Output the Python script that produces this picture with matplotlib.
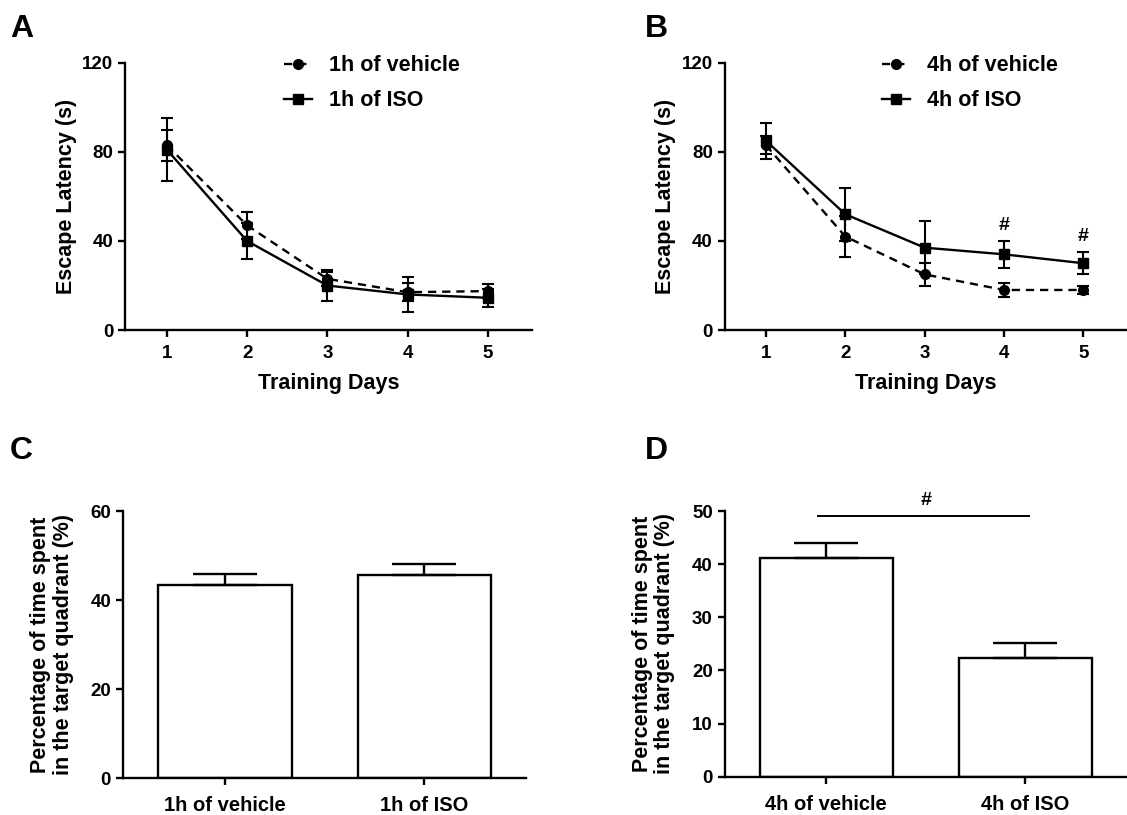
import matplotlib
matplotlib.use('Agg')
import matplotlib.pyplot as plt
from matplotlib.lines import Line2D

plt.rcParams['font.family'] = ['Liberation Sans', 'DejaVu Sans']
plt.rcParams['font.weight'] = 'bold'
plt.rcParams['axes.labelweight'] = 'bold'

# water maze data
days = [1, 2, 3, 4, 5]

veh_1h = [83, 47, 23, 17, 17.5]
veh_1h_err = [7, 6, 3, 4, 3]
iso_1h = [81, 40, 20, 16, 14.5]
iso_1h_err = [14, 8, 7, 8, 4]

veh_4h = [83, 42, 25, 18, 18]
veh_4h_err = [4, 9, 5, 3, 2]
iso_4h = [85, 52, 37, 34, 30]
iso_4h_err = [8, 12, 12, 6, 5]
sig_days = [4, 5]

groups_c = ['1h of vehicle', '1h of ISO']
pct_c = [43.3, 45.7]
pct_c_err = [2.5, 2.3]

groups_d = ['4h of vehicle', '4h of ISO']
pct_d = [41.2, 22.3]
pct_d_err = [2.8, 2.8]

DASH = (0, (3.5, 2.5))


def style_ax(ax):
    for s in ['top', 'right']:
        ax.spines[s].set_visible(False)
    for s in ['left', 'bottom']:
        ax.spines[s].set_linewidth(1.7)
    ax.tick_params(width=1.7, length=5, labelsize=13.5, direction='out')


def line_panel(ax, veh, veh_err, iso, iso_err, lab_veh, lab_iso):
    ax.errorbar(days, veh, yerr=veh_err, color='black', marker='o', ms=7,
                lw=1.7, ls=DASH, capsize=4, elinewidth=1.5, capthick=1.5)
    ax.errorbar(days, iso, yerr=iso_err, color='black', marker='s', ms=7,
                lw=1.7, ls='-', capsize=4, elinewidth=1.5, capthick=1.5)
    ax.set_ylim(0, 120)
    ax.set_yticks([0, 40, 80, 120])
    ax.set_xlim(0.48, 5.55)
    ax.set_xticks(days)
    ax.set_xlabel('Training Days', fontsize=15.5, labelpad=8)
    ax.set_ylabel('Escape Latency (s)', fontsize=15.5)
    style_ax(ax)
    ax.tick_params(axis='x', pad=6)
    handles = [Line2D([], [], color='black', marker='o', ms=7, lw=1.7, ls=DASH),
               Line2D([], [], color='black', marker='s', ms=7, lw=1.7, ls='-')]
    ax.legend(handles, [lab_veh, lab_iso], loc='upper left',
              bbox_to_anchor=(0.343, 1.1), frameon=False, fontsize=15.5,
              handlelength=1.3, handletextpad=0.8, labelspacing=0.65)


def bar_panel(ax, groups, vals, errs, ymax, yticks):
    x = [0, 1]
    ax.bar(x, vals, width=0.67, color='white', edgecolor='black', lw=1.7,
           yerr=[[0, 0], errs], capsize=23,
           error_kw=dict(elinewidth=1.7, capthick=1.7))
    ax.set_ylim(0, ymax)
    ax.set_yticks(yticks)
    ax.set_xticks(x)
    ax.set_xticklabels(groups)
    ax.set_xlim(-0.51, 1.51)
    ax.set_ylabel('Percentage of time spent\nin the target quadrant (%)',
                  fontsize=15.5, linespacing=1.1, labelpad=12)
    style_ax(ax)
    ax.tick_params(axis='x', labelsize=14.5, pad=8)


fig = plt.figure(figsize=(11.27, 8.15), dpi=100)

axA = fig.add_axes([0.111, 0.595, 0.361, 0.328])
line_panel(axA, veh_1h, veh_1h_err, iso_1h, iso_1h_err,
           '1h of vehicle', '1h of ISO')

axB = fig.add_axes([0.643, 0.595, 0.357, 0.328])
line_panel(axB, veh_4h, veh_4h_err, iso_4h, iso_4h_err,
           '4h of vehicle', '4h of ISO')
for d in sig_days:
    i = days.index(d)
    axB.text(d, iso_4h[i] + iso_4h_err[i] + 3, '#', ha='center',
             va='bottom', fontsize=14)

axC = fig.add_axes([0.109, 0.045, 0.358, 0.328])
bar_panel(axC, groups_c, pct_c, pct_c_err, 60, [0, 20, 40, 60])

axD = fig.add_axes([0.643, 0.047, 0.357, 0.326])
bar_panel(axD, groups_d, pct_d, pct_d_err, 50, [0, 10, 20, 30, 40, 50])
axD.plot([-0.04, 1.02], [49, 49], color='black', lw=1.4, clip_on=False)
axD.text(0.5, 50.3, '#', ha='center', va='bottom', fontsize=14)

for lab, x, y in [('A', 0.009, 0.946), ('B', 0.572, 0.946),
                  ('C', 0.009, 0.428), ('D', 0.572, 0.428)]:
    fig.text(x, y, lab, fontsize=23, fontweight='bold', ha='left',
             va='bottom')

fig.savefig('out.png', dpi=100)
